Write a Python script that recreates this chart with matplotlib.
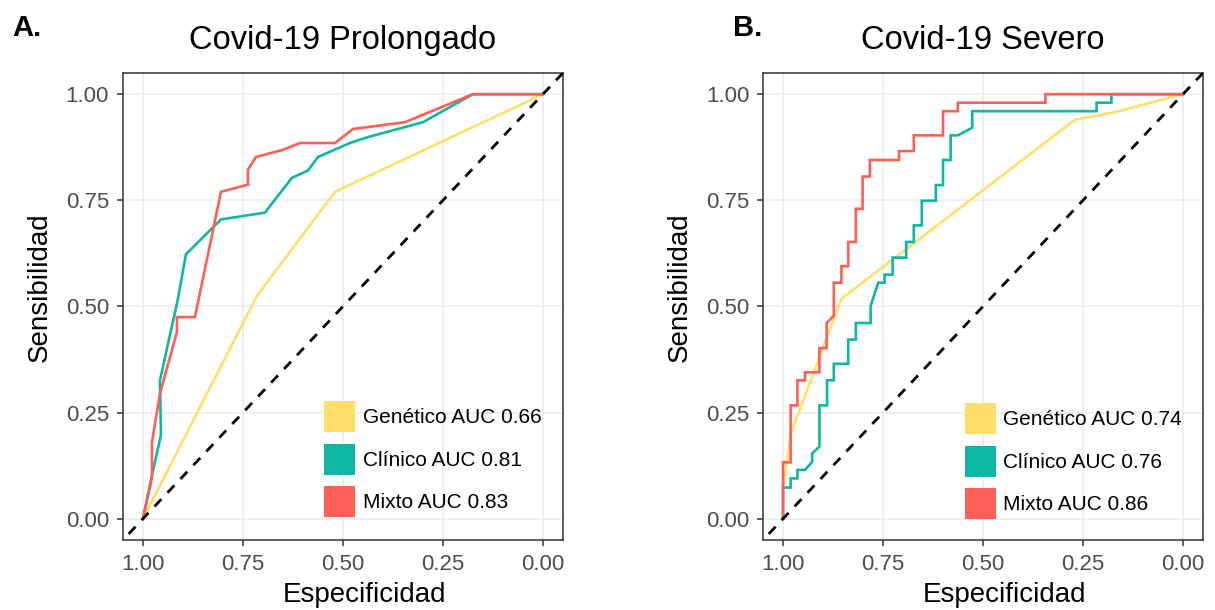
import matplotlib
matplotlib.use("Agg")
import matplotlib.pyplot as plt
from matplotlib.patches import Patch

plt.rcParams['font.family'] = ['Liberation Sans', 'DejaVu Sans']

# Panel A: Covid-19 Prolongado (specificity, sensitivity)
a_gen_spec = [1.0, 0.715, 0.52, 0.0]
a_gen_sens = [0.0, 0.525, 0.77, 1.0]

a_cli_spec = [1.0, 0.9775, 0.955, 0.9575, 0.9125, 0.8925, 0.805, 0.695, 0.6275,
              0.5875, 0.5625, 0.4825, 0.4375, 0.30, 0.175, 0.0]
a_cli_sens = [0.0, 0.103, 0.197, 0.326, 0.518, 0.623, 0.705, 0.721, 0.803,
              0.820, 0.852, 0.885, 0.899, 0.934, 1.0, 1.0]

a_mix_spec = [1.0, 0.9775, 0.9775, 0.9575, 0.915, 0.915, 0.87, 0.805, 0.7375,
              0.7375, 0.7175, 0.65, 0.6075, 0.52, 0.475, 0.345, 0.175, 0.0]
a_mix_sens = [0.0, 0.096, 0.180, 0.295, 0.440, 0.475, 0.475, 0.770, 0.787,
              0.822, 0.852, 0.869, 0.885, 0.885, 0.918, 0.934, 1.0, 1.0]

# Panel B: Covid-19 Severo
b_gen_spec = [1.0, 1.0, 0.979, 0.854, 0.270, 0.168, 0.0]
b_gen_sens = [0.0, 0.075, 0.205, 0.518, 0.940, 0.958, 1.0]

b_cli_spec = [1.0, 1.0, 0.981, 0.981, 0.964, 0.964, 0.945, 0.927, 0.927, 0.909,
              0.909, 0.890, 0.890, 0.873, 0.873, 0.837, 0.837, 0.818, 0.818,
              0.781, 0.781, 0.762, 0.746, 0.746, 0.726, 0.726, 0.692, 0.692,
              0.673, 0.673, 0.653, 0.653, 0.618, 0.618, 0.600, 0.600, 0.581,
              0.581, 0.563, 0.527, 0.527, 0.216, 0.216, 0.179, 0.179, 0.0]
b_cli_sens = [0.0, 0.0735, 0.0735, 0.095, 0.095, 0.115, 0.115, 0.134, 0.154, 0.170,
              0.267, 0.267, 0.326, 0.326, 0.365, 0.365, 0.422, 0.422, 0.461,
              0.461, 0.501, 0.556, 0.556, 0.575, 0.575, 0.615, 0.615, 0.652,
              0.652, 0.691, 0.691, 0.749, 0.749, 0.786, 0.786, 0.845, 0.845,
              0.903, 0.903, 0.921, 0.960, 0.960, 0.980, 0.980, 1.0, 1.0]

b_mix_spec = [1.0, 1.0, 0.981, 0.981, 0.964, 0.964, 0.945, 0.945, 0.909, 0.909,
              0.891, 0.891, 0.873, 0.873, 0.854, 0.854, 0.837, 0.837, 0.818,
              0.818, 0.801, 0.801, 0.783, 0.783, 0.710, 0.710, 0.673, 0.673,
              0.600, 0.600, 0.563, 0.563, 0.344, 0.344, 0.0]
b_mix_sens = [0.0, 0.133, 0.133, 0.267, 0.267, 0.326, 0.326, 0.345, 0.345, 0.402,
              0.402, 0.461, 0.478, 0.556, 0.556, 0.595, 0.595, 0.652, 0.652,
              0.730, 0.730, 0.806, 0.806, 0.845, 0.845, 0.866, 0.866, 0.903,
              0.903, 0.960, 0.960, 0.980, 0.980, 1.0, 1.0]

titles = ["Covid-19 Prolongado", "Covid-19 Severo"]
panel_tags = ["A.", "B."]
legend_a = ["Genético AUC 0.66", "Clínico AUC 0.81", "Mixto AUC 0.83"]
legend_b = ["Genético AUC 0.74", "Clínico AUC 0.76", "Mixto AUC 0.86"]
ticks = [1.0, 0.75, 0.5, 0.25, 0.0]
tick_labels = ["1.00", "0.75", "0.50", "0.25", "0.00"]

colors = ["#FFDE6A", "#0DB7A3", "#FF5F57"]

fig = plt.figure(figsize=(12.15, 6.10), dpi=100)
ax_a = fig.add_axes([0.1012, 0.1148, 0.3621, 0.7656])
ax_b = fig.add_axes([0.6280, 0.1148, 0.3621, 0.7656])

panels = [
    (ax_a, [(a_gen_spec, a_gen_sens), (a_cli_spec, a_cli_sens), (a_mix_spec, a_mix_sens)], legend_a, 0.457, 0.049),
    (ax_b, [(b_gen_spec, b_gen_sens), (b_cli_spec, b_cli_sens), (b_mix_spec, b_mix_sens)], legend_b, 0.459, 0.045),
]

for i, (ax, curves, labels, lx, ly) in enumerate(panels):
    for (sp, se), c in zip(curves, colors):
        ax.plot(sp, se, color=c, lw=1.9, solid_joinstyle='miter', zorder=3)
    ax.axline((1, 0), (0, 1), color='black', lw=2.0, linestyle=(0, (3.6, 3.2)), zorder=4)

    ax.set_xlim(1.05, -0.05)
    ax.set_ylim(-0.05, 1.05)
    ax.set_xticks(ticks)
    ax.set_xticklabels(tick_labels)
    ax.set_yticks(ticks)
    ax.set_yticklabels(tick_labels)
    ax.grid(True, color='#EBEBEB', lw=1.1)
    ax.set_axisbelow(True)
    ax.tick_params(labelsize=16, labelcolor='#4D4D4D', color='#333333',
                   length=4, width=1.1, pad=6)
    for s in ax.spines.values():
        s.set_color('#333333')
        s.set_linewidth(1.1)

    ax.set_xlabel("Especificidad", fontsize=20, labelpad=5, x=0.55)
    ax.set_ylabel("Sensibilidad", fontsize=20, labelpad=9, y=0.542)
    ax.set_title(titles[i], fontsize=23.5, pad=17)

    handles = [Patch(facecolor=c, edgecolor='none') for c in colors]
    ax.legend(handles, labels, loc='lower left', bbox_to_anchor=(lx, ly),
              frameon=False, fontsize=15, handlelength=1.5, handleheight=1.91,
              handletextpad=0.35, labelspacing=0.55, borderpad=0, borderaxespad=0)

fig.text(12 / 1215, 1 - 36 / 610, panel_tags[0], fontsize=21, fontweight='bold')
fig.text(733 / 1215, 1 - 36 / 610, panel_tags[1], fontsize=21, fontweight='bold')

fig.savefig("out.png", dpi=100)
